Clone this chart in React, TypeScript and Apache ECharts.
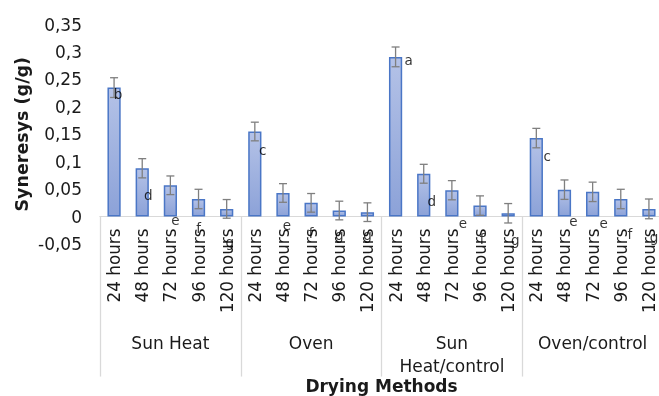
import React, { useEffect, useRef } from 'react';
import * as echarts from 'echarts';

const methods = ['Sun Heat', 'Oven', 'Sun Heat/control', 'Oven/control'];
const durations = ['24 hours', '48 hours', '72 hours', '96 hours', '120 hours'];

const sunHeat = [0.235, 0.088, 0.057, 0.032, 0.014];
const oven = [0.155, 0.043, 0.025, 0.011, 0.008];
const sunHeatControl = [0.291, 0.078, 0.048, 0.02, 0.006];
const ovenControl = [0.143, 0.049, 0.045, 0.032, 0.014];

const sunHeatErr = [0.018, 0.0175, 0.017, 0.0177, 0.017];
const ovenErr = [0.017, 0.017, 0.017, 0.017, 0.017];
const sunHeatControlErr = [0.018, 0.0172, 0.0175, 0.0177, 0.0177];
const ovenControlErr = [0.0177, 0.0177, 0.0177, 0.0177, 0.018];

const letters = ['b', 'd', 'e', 'f', 'g', 'c', 'e', 'f', 'g', 'g', 'a', 'd', 'e', 'f', 'g', 'c', 'e', 'e', 'f', 'g'];
// annotation placement: [value level, horizontal nudge px]
const letterPlacement: [number, number][] = [
  [0.223, 4], [0.04, 6], [-0.0064, 5], [-0.021, 0], [-0.047, 3],
  [0.121, 8], [-0.016, 4], [-0.03, 0], [-0.034, 0], [-0.034, 0],
  [0.285, 13], [0.028, 8], [-0.011, 11], [-0.04, 2], [-0.043, 7],
  [0.11, 11], [-0.0077, 9], [-0.011, 11], [-0.032, 9], [-0.037, 5],
];

export default function App() {
  const ref = useRef<HTMLDivElement>(null);
  useEffect(() => {
    const chart = echarts.init(ref.current!, null, { renderer: 'svg' });
    const values = [...sunHeat, ...oven, ...sunHeatControl, ...ovenControl];
    const errors = [...sunHeatErr, ...ovenErr, ...sunHeatControlErr, ...ovenControlErr];
    const hourLabels = methods.flatMap(() => durations);
    const font = 'DejaVu Sans';
    const txt = '#1a1a1a';
    const errStyle = { stroke: '#7f7f7f', lineWidth: 1.3 };
    chart.setOption({
      animation: false,
      textStyle: { fontFamily: font },
      grid: { left: 100, top: 24.5, width: 563, height: 219.5, containLabel: false, outerBoundsMode: 'none' },
      xAxis: [
        {
          type: 'category',
          data: hourLabels,
          axisLine: { onZero: true, onZeroAxisIndex: 0, lineStyle: { color: '#d9d9d9', width: 1 } },
          axisTick: { show: false },
          axisLabel: { rotate: 90, interval: 0, margin: -15.5, fontSize: 16.8, color: txt, fontFamily: font },
        },
        {
          type: 'category',
          data: methods,
          position: 'bottom',
          axisLine: { onZero: true, onZeroAxisIndex: 0, lineStyle: { color: '#d9d9d9', width: 1 } },
          axisTick: { show: true, length: 160, lineStyle: { color: '#d9d9d9', width: 1.3 } },
          axisLabel: {
            interval: 0, margin: 87.5, fontSize: 17, lineHeight: 23,
            color: txt, fontFamily: font,
            formatter: (s: string) => (s.length > 14 ? s.replace(' ', '\n') : s),
          },
          name: 'Drying Methods',
          nameLocation: 'middle',
          nameGap: 133,
          nameMoveOverlap: false,
          nameTextStyle: { fontWeight: 'bold', fontSize: 17, color: txt, fontFamily: font },
        },
      ],
      yAxis: {
        type: 'value',
        min: -0.05,
        max: 0.35,
        interval: 0.05,
        axisLine: { show: false },
        axisTick: { show: false },
        splitLine: { show: false },
        axisLabel: {
          fontSize: 17, margin: 18, color: txt, fontFamily: font,
          formatter: (v: number) => String(Math.round(v * 100) / 100).replace('.', ','),
        },
        name: 'Syneresys (g/g)',
        nameLocation: 'middle',
        nameRotate: 90,
        nameGap: 69,
        nameMoveOverlap: false,
        nameTextStyle: { fontWeight: 'bold', fontSize: 17.5, color: txt, fontFamily: font },
      },
      series: [
        {
          type: 'bar',
          xAxisIndex: 0,
          data: values,
          barWidth: '47%',
          itemStyle: {
            color: new echarts.graphic.LinearGradient(0, 0, 0, 1, [
              { offset: 0, color: '#b4c2e7' },
              { offset: 1, color: '#8ca2d8' },
            ]),
            borderColor: '#4a76c6',
            borderWidth: 1.5,
          },
        },
        {
          type: 'custom',
          xAxisIndex: 0,
          data: values.map((v, i) => [i, v, errors[i]]),
          encode: { x: 0, y: 1 },
          z: 5,
          renderItem: (params: any, api: any) => {
            const x = api.value(0);
            const v = api.value(1);
            const e = api.value(2);
            const top = api.coord([x, v + e]);
            const bot = api.coord([x, v - e]);
            const hw = 4;
            return {
              type: 'group',
              children: [
                { type: 'line', shape: { x1: top[0], y1: top[1], x2: bot[0], y2: bot[1] }, style: errStyle },
                { type: 'line', shape: { x1: top[0] - hw, y1: top[1], x2: top[0] + hw, y2: top[1] }, style: errStyle },
                { type: 'line', shape: { x1: bot[0] - hw, y1: bot[1], x2: bot[0] + hw, y2: bot[1] }, style: errStyle },
              ],
            };
          },
        },
        {
          type: 'scatter',
          xAxisIndex: 0,
          symbolSize: 0.1,
          itemStyle: { color: 'rgba(0,0,0,0)' },
          z: 6,
          label: { show: true, position: 'inside', fontSize: 13.5, color: '#000', fontFamily: font },
          data: letters.map((l, i) => ({
            value: [i, letterPlacement[i][0]],
            label: { formatter: l, offset: [letterPlacement[i][1], 0] },
          })),
        },
      ],
    });
    return () => chart.dispose();
  }, []);
  return <div ref={ref} style={{ position: 'fixed', left: 0, top: 0, width: 659, height: 396 }} />;
}
